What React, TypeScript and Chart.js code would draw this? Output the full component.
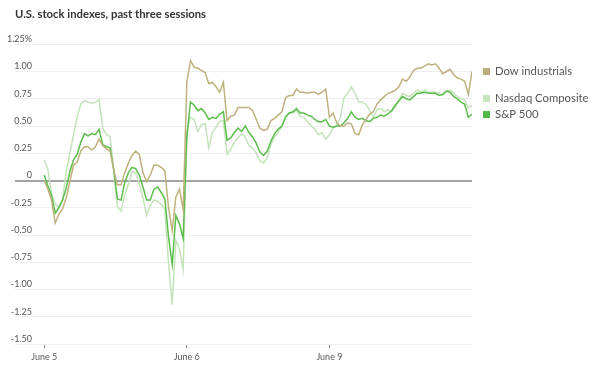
import React, { useEffect, useRef } from "react";
import { Chart, registerables } from "chart.js";

Chart.register(...registerables);

// Trading minutes since the June 5 open; each session is 390 minutes.
const sessionStarts = [0, 390, 780];
const sessionLabels = ["June 5", "June 6", "June 9"];
const sampleStep = 10;

const yTickValues = [1.25, 1, 0.75, 0.5, 0.25, 0, -0.25, -0.5, -0.75, -1, -1.25, -1.5];
const yTickLabels = ["1.25%", "1.00", "0.75", "0.50", "0.25", "0", "-0.25", "-0.50", "-0.75", "-1.00", "-1.25", "-1.50"];

const dow = [
  0.0, -0.08, -0.18, -0.39, -0.31, -0.26, -0.16, -0.01, 0.14, 0.17,
  0.27, 0.31, 0.31, 0.28, 0.31, 0.38, 0.32, 0.29, 0.27, 0.1,
  -0.04, -0.04, 0.07, 0.16, 0.23, 0.27, 0.24, 0.07, -0.01, 0.05,
  0.14, 0.14, 0.12, 0.09, -0.25, -0.46, -0.15, -0.08, -0.27, 0.9,
  1.1, 1.04, 1.03, 1.01, 0.99, 0.89, 0.9, 0.86, 0.81, 0.9,
  0.55, 0.59, 0.6, 0.67, 0.67, 0.67, 0.67, 0.64, 0.56, 0.48,
  0.46, 0.47, 0.55, 0.57, 0.6, 0.63, 0.76, 0.78, 0.78, 0.84,
  0.81, 0.81, 0.8, 0.81, 0.81, 0.79, 0.81, 0.84, 0.58, 0.62,
  0.53, 0.5, 0.5, 0.53, 0.52, 0.43, 0.42, 0.51, 0.56, 0.61,
  0.63, 0.7, 0.74, 0.77, 0.8, 0.81, 0.83, 0.86, 0.93, 0.91,
  0.95, 1.01, 1.03, 1.03, 1.05, 1.07, 1.06, 1.07, 1.03, 0.98,
  1.0, 1.02, 0.97, 0.94, 0.93, 0.91, 0.79, 1.0,
];

const sp500 = [
  0.05, -0.05, -0.14, -0.3, -0.25, -0.18, -0.07, 0.08, 0.19, 0.24,
  0.35, 0.43, 0.41, 0.43, 0.42, 0.47, 0.33, 0.31, 0.3, 0.1,
  -0.17, -0.18, -0.02, 0.07, 0.12, 0.11, 0.05, -0.06, -0.18, -0.18,
  -0.08, -0.06, -0.11, -0.17, -0.52, -0.77, -0.32, -0.4, -0.53, 0.4,
  0.72, 0.69, 0.64, 0.66, 0.62, 0.56, 0.58, 0.57, 0.61, 0.63,
  0.37, 0.39, 0.44, 0.48, 0.45, 0.5, 0.44, 0.4, 0.34, 0.26,
  0.23, 0.27, 0.36, 0.43, 0.47, 0.5, 0.58, 0.62, 0.63, 0.66,
  0.62, 0.62, 0.6, 0.59, 0.56, 0.54, 0.54, 0.56, 0.5, 0.49,
  0.5, 0.5, 0.53, 0.57, 0.63, 0.58, 0.56, 0.57, 0.55, 0.54,
  0.57, 0.58, 0.6, 0.59, 0.61, 0.64, 0.69, 0.73, 0.77, 0.75,
  0.74, 0.77, 0.8, 0.8, 0.81, 0.8, 0.8, 0.8, 0.78, 0.79,
  0.82, 0.81, 0.77, 0.75, 0.72, 0.7, 0.58, 0.61,
];

const nasdaq = [
  0.19, 0.1, -0.12, -0.22, -0.24, -0.18, 0.08, 0.25, 0.42, 0.58,
  0.7, 0.73, 0.72, 0.71, 0.72, 0.74, 0.48, 0.42, 0.4, 0.1,
  -0.24, -0.28, -0.13, -0.04, 0.08, 0.07, -0.03, -0.16, -0.32, -0.23,
  -0.18, -0.19, -0.22, -0.26, -0.77, -1.14, -0.55, -0.63, -0.82, 0.45,
  0.58, 0.56, 0.45, 0.51, 0.52, 0.3, 0.44, 0.49, 0.54, 0.55,
  0.24, 0.29, 0.35, 0.39, 0.43, 0.4, 0.32, 0.3, 0.25, 0.18,
  0.16, 0.21, 0.33, 0.4, 0.44, 0.5, 0.59, 0.62, 0.62, 0.64,
  0.59, 0.58, 0.54, 0.5, 0.47, 0.42, 0.44, 0.38, 0.42, 0.48,
  0.51, 0.58, 0.76, 0.8, 0.86, 0.8, 0.72, 0.72, 0.7, 0.64,
  0.58, 0.65, 0.66, 0.63, 0.65, 0.63, 0.67, 0.74, 0.8, 0.78,
  0.77, 0.8, 0.83, 0.81, 0.83, 0.81, 0.81, 0.81, 0.8, 0.78,
  0.82, 0.83, 0.8, 0.77, 0.75, 0.74, 0.67, 0.69,
];

const seriesNames = ["Dow industrials", "S&P 500", "Nasdaq Composite"];
const seriesValues = [dow, sp500, nasdaq];
const lineColors = ["#bfb17e", "#5cbd4c", "#c3e4ba"];
const legendColors = ["#bcae7b", "#4fba45", "#c6e6bf"];

const FONT = "Lato, 'Noto Sans', sans-serif";

const endLabels = {
  id: "endLabels",
  afterDatasetsDraw(chart: any) {
    const { ctx, chartArea, scales } = chart;
    const gap = 15.5;
    const items = chart.data.datasets.map((ds: any) => {
      const last = ds.data[ds.data.length - 1].y;
      return { label: ds.label, color: ds.legendColor, y: scales.y.getPixelForValue(last) };
    });
    items.sort((a: any, b: any) => b.y - a.y);
    for (let i = 1; i < items.length; i++) {
      if (items[i - 1].y - items[i].y < gap) items[i].y = items[i - 1].y - gap;
    }
    ctx.save();
    ctx.font = `11.3px ${FONT}`;
    ctx.textBaseline = "middle";
    ctx.textAlign = "left";
    items.forEach((it: any) => {
      ctx.fillStyle = it.color;
      ctx.fillRect(chartArea.right + 11, Math.round(it.y - 3.5), 7, 7);
      ctx.fillStyle = "#555";
      ctx.fillText(it.label, chartArea.right + 23, it.y);
    });
    ctx.restore();
  },
};

export default function App() {
  const canvasRef = useRef<HTMLCanvasElement | null>(null);

  useEffect(() => {
    document.body.style.margin = "0";
    const canvas = canvasRef.current;
    if (!canvas) return;
    const datasets = seriesNames.map((name, i) => ({
      label: name,
      data: seriesValues[i].map((v, j) => ({ x: j * sampleStep, y: v })),
      borderColor: lineColors[i],
      legendColor: legendColors[i],
      borderWidth: 1.5,
      pointRadius: 0,
      tension: 0,
      fill: false,
    }));

    const chart = new Chart(canvas, {
      type: "line",
      data: { datasets } as any,
      plugins: [endLabels],
      options: {
        animation: false,
        responsive: false,
        maintainAspectRatio: false,
        layout: { padding: { top: 4, left: 15, right: 128, bottom: 0 } },
        plugins: {
          legend: { display: false },
          tooltip: { enabled: false },
          title: {
            display: true,
            text: "U.S. stock indexes, past three sessions",
            align: "start",
            color: "#333",
            font: { family: FONT, size: 11.3, weight: "bold" },
            padding: { top: 4, bottom: 22.7 },
          },
        },
        scales: {
          x: {
            type: "linear",
            min: -80,
            max: 1170,
            afterBuildTicks: (axis: any) => {
              axis.ticks = sessionStarts.map((v) => ({ value: v }));
            },
            afterFit: (axis: any) => {
              axis.height = 24;
            },
            ticks: {
              autoSkip: false,
              maxRotation: 0,
              padding: 4,
              color: "#555",
              font: { family: FONT, size: 9 },
              callback: (value: any) => sessionLabels[sessionStarts.indexOf(Number(value))] ?? "",
            },
            grid: { drawOnChartArea: false, drawTicks: true, tickLength: 4, color: "#888" },
            border: { display: false },
          },
          y: {
            type: "linear",
            position: "left",
            min: -1.5,
            max: 1.25,
            afterBuildTicks: (axis: any) => {
              axis.ticks = yTickValues.map((v) => ({ value: v }));
            },
            ticks: {
              mirror: true,
              crossAlign: "far",
              padding: -4,
              labelOffset: -5,
              color: "#555",
              font: { family: FONT, size: 9 },
              callback: (value: any) => yTickLabels[yTickValues.indexOf(Number(value))] ?? "",
            },
            grid: {
              drawTicks: true,
              tickLength: 4,
              tickColor: "rgba(0,0,0,0)",
              color: (c: any) => (c.tick && c.tick.value === 0 ? "#a3a3a3" : "#eeeeee"),
              lineWidth: (c: any) => (c.tick && c.tick.value === 0 ? 2 : 1),
            },
            border: { display: false },
          },
        },
      } as any,
    });
    return () => chart.destroy();
  }, []);

  return (
    <div style={{ width: 600, height: 368 }}>
      <canvas ref={canvasRef} width={600} height={368} style={{ width: 600, height: 368, display: "block" }} />
    </div>
  );
}
